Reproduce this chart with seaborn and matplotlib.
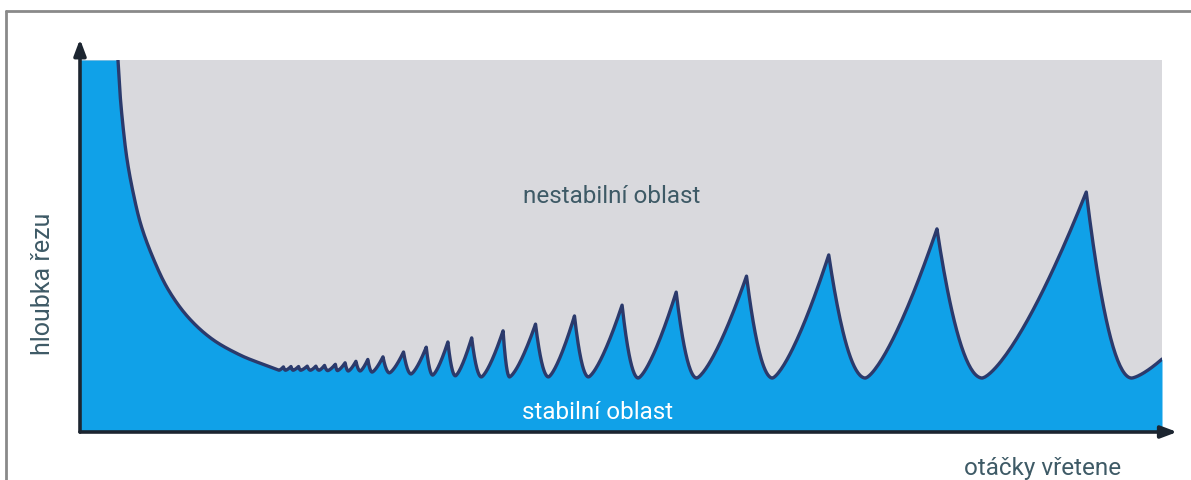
import numpy as np
import pandas as pd
import matplotlib
matplotlib.use("Agg")
import matplotlib.pyplot as plt
from matplotlib.lines import Line2D
import seaborn as sns

# ---------------- data (chart units: speed 0-100, depth 0-100) ----------------
# left decaying branch of the stability limit
decay_x = [3.51, 3.70, 3.97, 4.34, 4.90, 5.64, 6.75, 8.13, 9.98, 12.20, 14.79, 16.82]
decay_y = [100.0, 90.9, 82.3, 73.4, 64.5, 55.6, 46.8, 38.4, 30.9, 25.0, 20.7, 18.3]

# valleys (each one precedes the lobe peak with the same index)
valley_x = [18.4, 19.0, 19.7, 20.4, 21.3, 22.1, 22.9, 23.8, 24.8, 25.9, 27.0, 28.6,
            30.6, 32.6, 34.7, 37.1, 39.7, 43.3, 47.0, 51.6, 57.0, 64.0, 72.6, 83.4]
valley_y = [16.6, 16.6, 16.6, 16.6, 16.6, 16.6, 16.5, 16.5, 16.4, 16.4, 16.1, 15.9,
            15.6, 15.3, 15.1, 14.8, 14.8, 14.8, 14.8, 14.5, 14.5, 14.5, 14.5, 14.5]
# lobe peaks
peak_x = [18.8, 19.5, 20.2, 21.0, 21.8, 22.6, 23.6, 24.5, 25.5, 26.6, 28.0, 29.9,
          32.0, 34.0, 36.2, 39.1, 42.1, 45.7, 50.1, 55.1, 61.6, 69.2, 79.2, 93.0]
peak_y = [17.5, 17.6, 17.6, 17.7, 17.7, 17.9, 18.2, 18.6, 19.0, 19.5, 20.2, 21.5,
          22.8, 24.2, 25.3, 27.2, 29.0, 31.2, 34.1, 37.6, 41.9, 47.6, 54.6, 64.5]
# last valley and right end of the chart
tail_x = [97.2, 100.0]
tail_y = [14.5, 19.6]

label_unstable = "nestabilní oblast"
label_stable = "stabilní oblast"
label_y = "hloubka řezu"
label_x = "otáčky vřetene"

# ---------------- build the smooth boundary from the read key points ----------------
SX, SY = 10.82, 3.72  # chart units -> pixels, used only for an isotropic spline


def catmull_rom(px, py, n=30, alpha=0.5):
    P = np.column_stack([np.asarray(px) * SX, np.asarray(py) * SY]).astype(float)
    P = np.vstack([2 * P[0] - P[1], P, 2 * P[-1] - P[-2]])
    out = []
    for i in range(1, len(P) - 2):
        p0, p1, p2, p3 = P[i - 1], P[i], P[i + 1], P[i + 2]
        t0 = 0.0
        t1 = t0 + np.linalg.norm(p1 - p0) ** alpha
        t2 = t1 + np.linalg.norm(p2 - p1) ** alpha
        t3 = t2 + np.linalg.norm(p3 - p2) ** alpha
        t = np.linspace(t1, t2, n, endpoint=False)[:, None]
        a1 = (t1 - t) / (t1 - t0) * p0 + (t - t0) / (t1 - t0) * p1
        a2 = (t2 - t) / (t2 - t1) * p1 + (t - t1) / (t2 - t1) * p2
        a3 = (t3 - t) / (t3 - t2) * p2 + (t - t2) / (t3 - t2) * p3
        b1 = (t2 - t) / (t2 - t0) * a1 + (t - t0) / (t2 - t0) * a2
        b2 = (t3 - t) / (t3 - t1) * a2 + (t - t1) / (t3 - t1) * a3
        c = (t2 - t) / (t2 - t1) * b1 + (t - t1) / (t2 - t1) * b2
        out.append(c)
    out = np.vstack(out)
    return out[:, 0] / SX, out[:, 1] / SY


dx, dy = catmull_rom(decay_x + [valley_x[0]], decay_y + [valley_y[0]])
xs = list(dx)
ys = list(dy)


def rise(x0, y0, x1, y1, n=40):
    u = np.linspace(0, 1, n)
    return x0 + (x1 - x0) * u, y0 + (y1 - y0) * u ** 1.4


def fall(x0, y0, x1, y1, n=40):
    t = np.linspace(0, 1, n)
    return x0 + (x1 - x0) * t, y1 + (y0 - y1) * (1 - t) ** 2


nv = len(valley_x)
for k in range(nv):
    rx, ry = rise(valley_x[k], valley_y[k], peak_x[k], peak_y[k])
    xs += list(rx); ys += list(ry)
    if k + 1 < nv:
        nx, ny = valley_x[k + 1], valley_y[k + 1]
    else:
        nx, ny = tail_x[0], tail_y[0]
    fx, fy = fall(peak_x[k], peak_y[k], nx, ny)
    xs += list(fx); ys += list(fy)
rx, ry = rise(tail_x[0], tail_y[0], tail_x[1], tail_y[1])
xs += list(rx); ys += list(ry)

df = pd.DataFrame({"otacky": xs, "hloubka": ys})

# ---------------- plot ----------------
sns.set_theme(style="white")
W, H = 1191, 481
fig = plt.figure(figsize=(W / 100, H / 100), dpi=100)
fig.patch.set_facecolor("white")
ax = fig.add_axes([80 / W, 48 / H, 1082 / W, 372 / H])
ax.set_facecolor("#d9d9dd")

blue = "#10a1e8"
line_col = "#2b3a6c"
text_col = "#3e5a66"

fx_all = np.concatenate([[0.0], df["otacky"].values])
fy_all = np.concatenate([[100.0], df["hloubka"].values])
ax.fill_between(fx_all, 0, fy_all, color=blue, linewidth=0, zorder=1)
sns.lineplot(data=df, x="otacky", y="hloubka", sort=False, estimator=None,
             color=line_col, linewidth=2.4, ax=ax, zorder=2)

ax.set_xlim(0, 100)
ax.set_ylim(0, 100)
ax.set_xticks([]); ax.set_yticks([])
ax.set_xlabel(""); ax.set_ylabel("")
for s in ax.spines.values():
    s.set_visible(False)

fam = ["Roboto", "DejaVu Sans"]

# axis arrows
ax.annotate("", xy=(0, 1.056), xytext=(0, 0), xycoords="axes fraction",
            arrowprops=dict(arrowstyle="-|>,head_length=0.8,head_width=0.3",
                            color="#1c2530", lw=2.6, shrinkA=0, shrinkB=0),
            annotation_clip=False, zorder=5)
ax.annotate("", xy=(1.014, 0), xytext=(0, 0), xycoords="axes fraction",
            arrowprops=dict(arrowstyle="-|>,head_length=0.8,head_width=0.3",
                            color="#1c2530", lw=2.6, shrinkA=0, shrinkB=0),
            annotation_clip=False, zorder=5)

ax.text(49.1, 63.5, label_unstable, ha="center", va="center", fontsize=17.5,
        color=text_col, family=fam)
ax.text(47.8, 5.6, label_stable, ha="center", va="center", fontsize=17.5,
        color="white", family=fam)
fig.text(43 / W, 1 - 284 / H, label_y, rotation=90, ha="center", va="center",
         fontsize=18, color=text_col, family=fam)
fig.text(1043 / W, 1 - 469 / H, label_x, ha="center", va="center",
         fontsize=17.5, color=text_col, family=fam)

# outer frame lines (left and top)
fig.add_artist(Line2D([6 / W, 6 / W], [0, 1 - 12 / H], color="#8a8a8a", lw=2))
fig.add_artist(Line2D([6 / W, 1], [1 - 12 / H, 1 - 12 / H], color="#8a8a8a", lw=2))

fig.savefig("out.png", dpi=100)
